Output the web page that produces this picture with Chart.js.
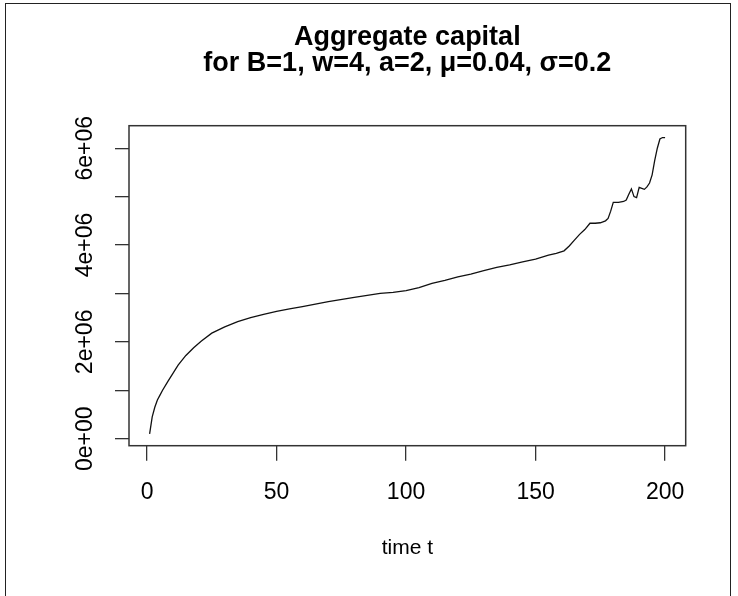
<!DOCTYPE html>
<html>
<head>
<meta charset="utf-8">
<script src="https://cdn.jsdelivr.net/npm/chart.js@4.4.1/dist/chart.umd.min.js"></script>
<style>
  html, body { margin: 0; padding: 0; background: #fff; }
  #wrap { position: relative; width: 738px; height: 596px; overflow: hidden; }
  #frame { position: absolute; left: 5px; top: 3px; width: 726px; height: 620px; border: 1.5px solid #222; box-sizing: border-box; pointer-events: none; }
  canvas { position: absolute; left: 0; top: 0; }
</style>
</head>
<body>
<div id="wrap">
  <canvas id="c" width="738" height="596"></canvas>
  <div id="frame"></div>
</div>
<script>
// ---- data ----
const timeT = [1, 2, 3, 4, 5, 6, 8, 10, 12, 15, 18, 21, 25, 30, 35, 40, 45, 50, 55, 60, 70, 80, 90, 95,
  100, 105, 110, 115, 120, 125, 130, 135, 140, 145, 150, 155, 158, 161, 163, 165, 167, 169, 171, 173,
  175, 177, 178, 179, 180, 182, 184, 185, 186, 187, 188, 189, 190, 191, 192, 193, 194, 195, 196, 197,
  198, 199, 200];
const capital = [0.10e6, 0.45e6, 0.65e6, 0.80e6, 0.90e6, 1.00e6, 1.18e6, 1.35e6, 1.52e6, 1.72e6, 1.88e6,
  2.02e6, 2.18e6, 2.31e6, 2.42e6, 2.50e6, 2.57e6, 2.63e6, 2.68e6, 2.73e6, 2.83e6, 2.92e6, 3.00e6, 3.02e6,
  3.06e6, 3.12e6, 3.21e6, 3.27e6, 3.34e6, 3.40e6, 3.47e6, 3.54e6, 3.59e6, 3.65e6, 3.71e6, 3.79e6, 3.83e6,
  3.88e6, 3.98e6, 4.10e6, 4.22e6, 4.32e6, 4.45e6, 4.45e6, 4.46e6, 4.50e6, 4.55e6, 4.70e6, 4.88e6, 4.88e6,
  4.90e6, 4.93e6, 5.05e6, 5.16e6, 5.00e6, 4.98e6, 5.19e6, 5.17e6, 5.15e6, 5.20e6, 5.28e6, 5.45e6, 5.75e6,
  6.00e6, 6.19e6, 6.22e6, 6.22e6];
const xTicks = [0, 50, 100, 150, 200];
const yTicks = [0, 1e6, 2e6, 3e6, 4e6, 5e6, 6e6];
const yTickLabels = ['0e+00', '', '2e+06', '', '4e+06', '', '6e+06'];
const titleLines = ['Aggregate capital', 'for B=1, w=4, a=2, \u03bc=0.04, \u03c3=0.2'];
const xTitle = 'time t';

// ---- layout helpers ----
const FONT = '"Liberation Sans", Arial, sans-serif';
const TICK_SIZE = 23;
const TITLE_SIZE = 27;
const TITLE_LH = 0.95;
const mctx = document.createElement('canvas').getContext('2d');
mctx.font = TICK_SIZE + 'px ' + FONT;
const widestY = Math.max(...yTickLabels.map(s => mctx.measureText(s).width));

// R-style 4% extension of the data range
const xMin = Math.min(...timeT), xMax = Math.max(...timeT);
const yMin = Math.min(...capital), yMax = Math.max(...capital);
const xPad = (xMax - xMin) * 0.04, yPad = (yMax - yMin) * 0.04;

const AREA = { left: 129, top: 125.7, right: 685.7, bottom: 445.7 };
const AXIS_COLOR = '#333';
const TITLE_TOP = 25;

const boxPlugin = {
  id: 'box',
  afterDatasetsDraw(chart) {
    const { ctx, chartArea: a } = chart;
    ctx.save();
    ctx.strokeStyle = AXIS_COLOR;
    ctx.lineWidth = 1.5;
    ctx.strokeRect(a.left, a.top, a.right - a.left, a.bottom - a.top);
    ctx.restore();
  }
};

new Chart(document.getElementById('c'), {
  type: 'line',
  data: {
    datasets: [{
      data: timeT.map((t, i) => ({ x: t, y: capital[i] })),
      borderColor: '#111',
      borderWidth: 1.3,
      pointRadius: 0,
      tension: 0,
      fill: false
    }]
  },
  options: {
    responsive: false,
    animation: false,
    devicePixelRatio: 1,
    layout: { padding: { left: 0, right: 738 - AREA.right, top: 0, bottom: 0 } },
    plugins: {
      legend: { display: false },
      tooltip: { enabled: false },
      title: {
        display: true,
        text: titleLines,
        fullSize: false,
        color: '#000',
        font: { family: FONT, size: TITLE_SIZE, weight: 'bold', lineHeight: TITLE_LH },
        padding: { top: TITLE_TOP, bottom: AREA.top - TITLE_TOP - 2 * TITLE_SIZE * TITLE_LH }
      }
    },
    scales: {
      x: {
        type: 'linear',
        min: xMin - xPad,
        max: xMax + xPad,
        afterBuildTicks: s => { s.ticks = xTicks.map(v => ({ value: v })); },
        afterFit: s => { s.height = 596 - AREA.bottom; },
        border: { display: false },
        grid: { display: true, drawOnChartArea: false, drawTicks: true, tickLength: 15, color: AXIS_COLOR, lineWidth: 1.3 },
        ticks: { color: '#000', font: { family: FONT, size: TICK_SIZE }, padding: 18, maxRotation: 0, autoSkip: false,
                 callback: v => String(v) },
        title: { display: true, text: xTitle, color: '#000', font: { family: FONT, size: 21, lineHeight: 1.2 },
                 padding: { top: 35, bottom: 35 } }
      },
      y: {
        type: 'linear',
        min: yMin - yPad,
        max: yMax + yPad,
        afterBuildTicks: s => { s.ticks = yTicks.map(v => ({ value: v })); },
        afterFit: s => { s.width = AREA.left; },
        border: { display: false },
        grid: { display: true, drawOnChartArea: false, drawTicks: true, tickLength: 14, color: AXIS_COLOR, lineWidth: 1.3 },
        ticks: { color: '#000', font: { family: FONT, size: TICK_SIZE }, minRotation: 90, maxRotation: 90,
                 crossAlign: 'center', padding: 29 - widestY / 2, autoSkip: false,
                 callback: (v) => yTickLabels[yTicks.indexOf(v)] ?? '' }
      }
    }
  },
  plugins: [boxPlugin]
});
</script>
</body>
</html>
